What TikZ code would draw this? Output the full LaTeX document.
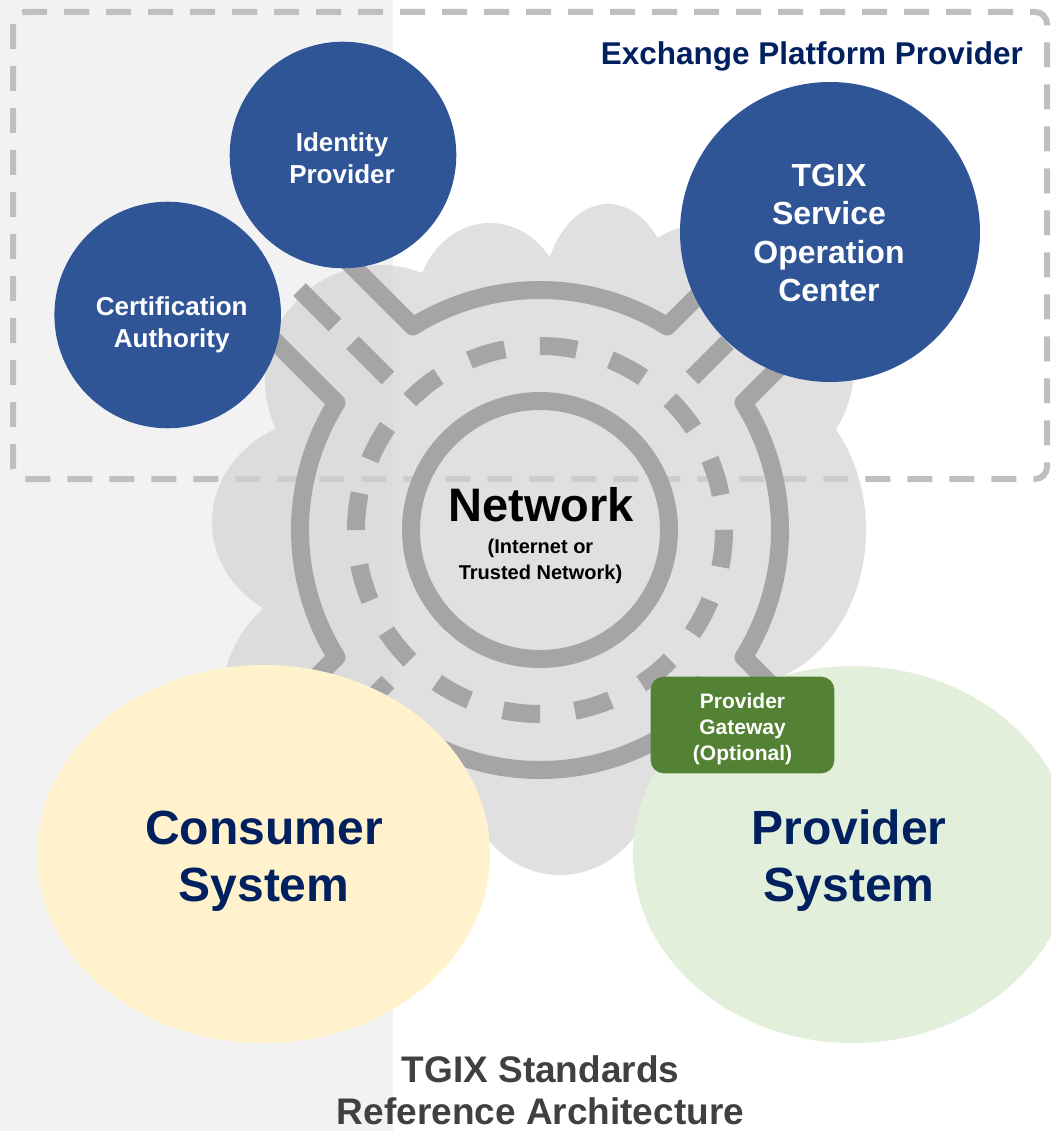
\documentclass[tikz,border=0pt]{standalone}
\usepackage{fontspec}
\setmainfont{Liberation Sans}
\usetikzlibrary{shapes.geometric,calc}
\definecolor{tgblue}{HTML}{2F5597}
\definecolor{tgnavy}{HTML}{002060}
\definecolor{tggreen}{HTML}{548235}
\definecolor{consumerfill}{HTML}{FFF2CC}
\definecolor{providerfill}{HTML}{E2EFDA}
\definecolor{panelgray}{HTML}{F2F2F2}
\definecolor{bordergray}{HTML}{BFBFBF}
\definecolor{roadgray}{HTML}{A5A5A5}
\definecolor{cloudgray}{HTML}{D3D3D3}
\definecolor{titlegray}{HTML}{404040}
\tikzset{every node/.style={inner sep=0pt,font=\bfseries}}
\tikzset{txt/.style n args={2}{align=center,font=\bfseries\fontsize{#1}{#2}\selectfont}}
\tikzset{party/.style={circle,fill=tgblue,minimum size=#1}}
\tikzset{road/.style={draw=roadgray,line width=18pt,line join=round}}
\tikzset{roaddash/.style={road,dash pattern=on 50pt off 25pt}}
\tikzset{ringdash/.style={road,dash pattern=on 37.25pt off 35pt}}

\begin{document}
\begin{tikzpicture}[x=1pt,y=-1pt]
\useasboundingbox (0,0) rectangle (1050,1131);
\fill[panelgray] (0,0) rectangle (393,1131);
\draw[bordergray,line width=6pt,dash pattern=on 25pt off 17pt,rounded corners=12pt] (13,12) rectangle (1047,479);
\fill[cloudgray,fill opacity=0.7] (540,531) circle (250) (380,380) circle (115)
  (490,310) ellipse [x radius=75,y radius=87] (608,300) ellipse [x radius=65,y radius=96]
  (700,300) circle (75) (770,360) ellipse [x radius=85,y radius=110]
  (740,530) ellipse [x radius=126,y radius=155] (330,522) ellipse [x radius=118,y radius=105]
  (340,700) ellipse [x radius=118,y radius=120] (560,760) ellipse [x radius=100,y radius=115];
\coordinate (rc) at (540,530);
\draw[road] (rc) circle (129);
\draw[ringdash] ($(rc)+(0:184)$) arc[start angle=0,end angle=360,radius=184];
\draw[road] ($(rc)+(238:240)+(225:150)$) -- ($(rc)+(238:240)$) arc[start angle=238,end angle=302,radius=240] -- ++(315:150);
\draw[road] ($(rc)+(328:240)+(315:150)$) -- ($(rc)+(328:240)$) arc[start angle=328,end angle=392,radius=240] -- ++(45:150);
\draw[road] ($(rc)+(58:240)+(45:150)$) -- ($(rc)+(58:240)$) arc[start angle=58,end angle=122,radius=240] -- ++(135:150);
\draw[road] ($(rc)+(148:240)+(135:150)$) -- ($(rc)+(148:240)$) arc[start angle=148,end angle=212,radius=240] -- ++(225:150);
\draw[roaddash] ($(rc)+(45:215)$) -- ($(rc)+(45:340)$) ($(rc)+(135:215)$) -- ($(rc)+(135:340)$)
  ($(rc)+(225:215)$) -- ($(rc)+(225:340)$) ($(rc)+(315:215)$) -- ($(rc)+(315:340)$);
\node[txt={47}{56},anchor=base,name=net] at (541,521) {Network};
\node[txt={20}{26},name=netsub] at (540.5,561.8) {(Internet or\\Trusted Network)};
\node[party=226.6pt,name=idp] at (343,155) {};
\node[party=226.6pt,name=ca] at (167.7,315) {};
\node[party=300pt,name=soc] at (830,232) {};
\node[txt={26}{32},text=white,name=idptext] at ($(idp)+(-1,3)$) {Identity\\Provider};
\node[txt={26}{32},text=white,name=catext] at ($(ca)+(4,9.3)$) {Certification\\Authority};
\node[txt={32}{38.5},text=white,name=soctext] at ($(soc)+(-1,1)$) {TGIX\\Service\\Operation\\Center};
\node[txt={31.5}{38},text=tgnavy,anchor=base east,name=epp] at (1023,65) {Exchange Platform Provider};
\node[ellipse,fill=consumerfill,minimum width=453pt,minimum height=378pt,name=cons] at (263.5,854) {};
\node[ellipse,fill=providerfill,minimum width=439.4pt,minimum height=377pt,name=prov] at (852.7,854.5) {};
\node[txt={48}{57},text=tgnavy,name=constext] at (264,861) {Consumer\\System};
\node[txt={48}{57},text=tgnavy,name=provtext] at (849,861) {Provider\\System};
\node[rectangle,rounded corners=13pt,fill=tggreen,minimum width=183.6pt,minimum height=96.6pt,name=gw] at (742.5,725) {};
\node[txt={21}{26},text=white,name=gwtext] at ($(gw)+(0,4)$) {Provider\\Gateway\\(Optional)};
\node[txt={37}{42.3},text=titlegray,name=title] at (540.5,1090.5) {TGIX Standards\\Reference Architecture};
\end{tikzpicture}
\end{document}
